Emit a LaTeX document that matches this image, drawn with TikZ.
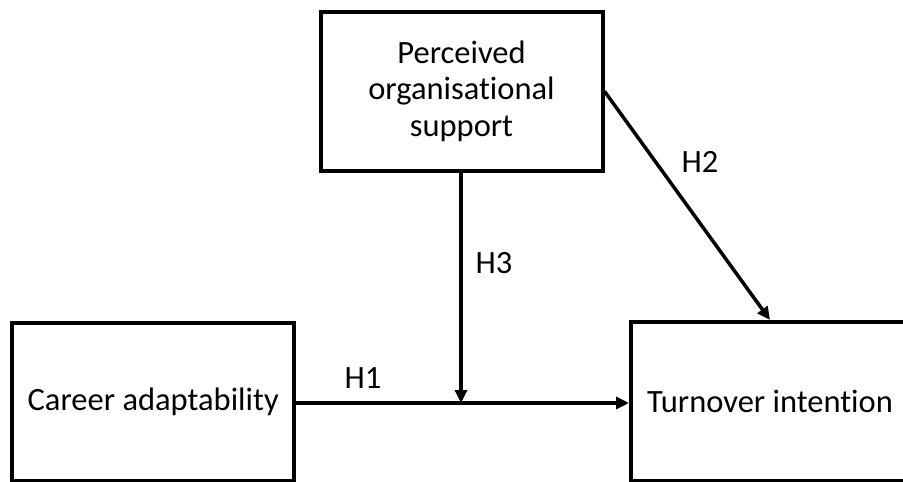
\documentclass[tikz,border=0pt]{standalone}
\usepackage{fontspec}
\setmainfont{Carlito}[Ligatures=NoCommon]
\usetikzlibrary{arrows.meta}
\tikzset{
  box/.style={draw=black, line width=4pt, rectangle, inner sep=0pt, align=center,
    font=\fontsize{32.5}{36.5}\selectfont},
  link/.style={draw=black, line width=3.5pt, -{Triangle[length=13pt,width=12pt]}},
  hlabel/.style={font=\fontsize{32.5}{36.5}\selectfont, inner sep=0pt}
}
\begin{document}
\begin{tikzpicture}[x=1pt,y=-1pt]
\useasboundingbox (0,0) rectangle (903,482);
\clip (0,0) rectangle (903,482);
\fill[white] (0,0) rectangle (903,482);
\node[box, minimum width=282pt, minimum height=159.5pt] (pos) at (461.5,91.3) {Perceived\\organisational\\support};
\node[box, minimum width=281.5pt, minimum height=158pt] (ca) at (153.2,402) {Career adaptability};
\node[box, minimum width=278pt, minimum height=159pt] (ti) at (770,401.5) {Turnover intention};
\coordinate (m) at (461,403);
\draw[link] (ca.east |- m) -- (ti.west |- m);
\draw[link] (pos.south -| m) -- (m);
\draw[link] (pos.east) -- (ti.north);
\node[hlabel] (h1) at (363,378) {H1};
\node[hlabel] (h3) at (494,263) {H3};
\node[hlabel] (h2) at (700,162) {H2};
\end{tikzpicture}
\end{document}
